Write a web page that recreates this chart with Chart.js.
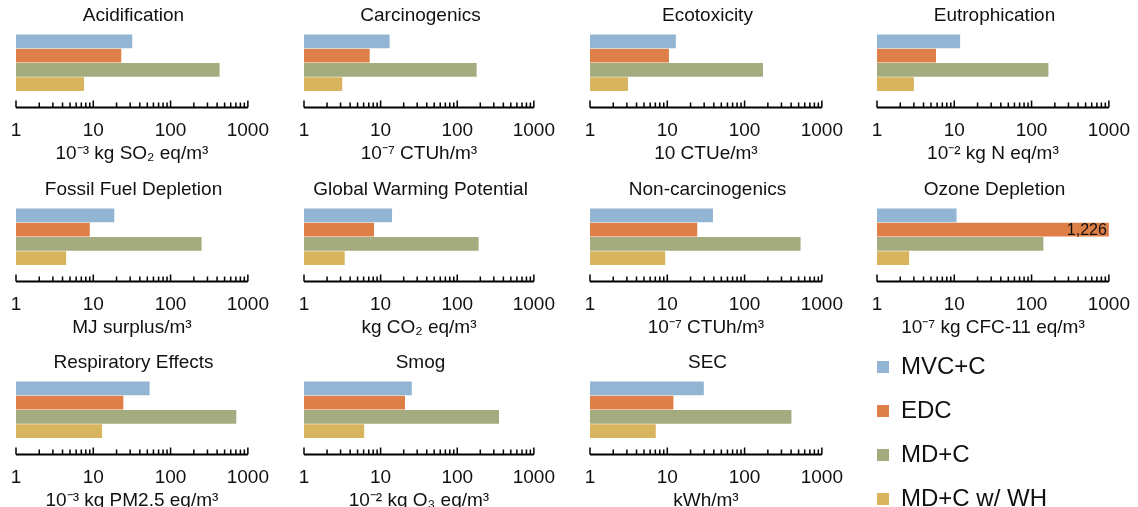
<!DOCTYPE html>
<html>
<head>
<meta charset="utf-8">
<script src="https://cdn.jsdelivr.net/npm/chart.js@4.4.0/dist/chart.umd.min.js"></script>
<style>
  html, body { margin: 0; padding: 0; background: #fff; overflow: hidden; }
  #wrap { position: relative; width: 1138px; height: 507px; overflow: hidden; }
  #wrap canvas { position: absolute; }
</style>
</head>
<body>
<div id="wrap"></div>
<script>
// impact categories, one small chart each
var panelTitles = ['Acidification', 'Carcinogenics', 'Ecotoxicity', 'Eutrophication',
  'Fossil Fuel Depletion', 'Global Warming Potential', 'Non-carcinogenics', 'Ozone Depletion',
  'Respiratory Effects', 'Smog', 'SEC'];
var unitLabels = ['10⁻³ kg SO₂ eq/m³', '10⁻⁷ CTUh/m³', '10 CTUe/m³', '10⁻² kg N eq/m³',
  'MJ surplus/m³', 'kg CO₂ eq/m³', '10⁻⁷ CTUh/m³', '10⁻⁷ kg CFC-11 eq/m³',
  '10⁻³ kg PM2.5 eq/m³', '10⁻² kg O₃ eq/m³', 'kWh/m³'];
var seriesNames = ['MVC+C', 'EDC', 'MD+C', 'MD+C w/ WH'];

var mvcValues  = [31.9, 13.1, 12.9, 11.9, 18.7, 14.1, 39, 10.7, 53.5, 25.5, 29.7];
var edcValues  = [23, 7.2, 10.5, 5.8, 9.0, 8.2, 24.4, 1226, 24.5, 20.8, 12];
var mdValues   = [431, 179, 173, 165, 252, 190, 530, 142, 708, 351, 404];
var mdwhValues = [7.6, 3.15, 3.1, 3.0, 4.45, 3.4, 9.4, 2.6, 13, 6.1, 7.1];

var tickValues = [1, 10, 100, 1000];

var seriesValues = [mvcValues, edcValues, mdValues, mdwhValues];
var colors = ['#93b5d4', '#df7f48', '#a4ab7f', '#d9b45f'];
var textColor = '#111';
var fontFamily = '"Liberation Sans", Arial, Helvetica, sans-serif';

// where each panel's axis sits on the page
var colAxis = [[15.5, 250.5], [304, 537], [590, 825], [877, 1112]];
var rowTop = [0, 174, 347];

Chart.defaults.font.family = fontFamily;

// bottom axis line with inward log ticks
var logAxis = {
  id: 'logAxis',
  afterDatasetsDraw: function (chart) {
    var ctx = chart.ctx;
    var area = chart.chartArea;
    var sx = chart.scales.x;
    var y = Math.round(area.bottom) + 0.5;
    ctx.save();
    ctx.strokeStyle = '#000';
    ctx.lineWidth = 1.5;
    ctx.beginPath();
    for (var d = 1; d < 1000; d *= 10) {
      for (var m = 1; m < 10; m++) {
        var x = sx.getPixelForValue(d * m);
        var len = m === 1 ? 7 : 5;
        ctx.moveTo(x, y);
        ctx.lineTo(x, y - len);
      }
    }
    var xe = sx.getPixelForValue(1000);
    ctx.moveTo(xe, y);
    ctx.lineTo(xe, y - 7);
    ctx.stroke();
    ctx.lineWidth = 2;
    ctx.beginPath();
    ctx.moveTo(area.left, y);
    ctx.lineTo(area.right, y);
    ctx.stroke();
    ctx.restore();
  }
};

// value label for bars running past the axis maximum
var overLabel = {
  id: 'overLabel',
  afterDatasetsDraw: function (chart) {
    var ctx = chart.ctx;
    var max = chart.scales.x.max;
    chart.data.datasets.forEach(function (ds, i) {
      var v = ds.data[0];
      if (v > max) {
        var bar = chart.getDatasetMeta(i).data[0];
        ctx.save();
        ctx.fillStyle = textColor;
        ctx.font = '16px ' + fontFamily;
        ctx.textAlign = 'right';
        ctx.textBaseline = 'middle';
        ctx.fillText(v.toLocaleString('en-US'), chart.chartArea.right - 2, bar.y + 1);
        ctx.restore();
      }
    });
  }
};

var wrap = document.getElementById('wrap');

function addCanvas(left, top, w, h) {
  var c = document.createElement('canvas');
  c.width = w;
  c.height = h;
  c.style.left = left + 'px';
  c.style.top = top + 'px';
  c.style.width = w + 'px';
  c.style.height = h + 'px';
  wrap.appendChild(c);
  return c;
}

panelTitles.forEach(function (title, p) {
  var col = p % 4;
  var row = Math.floor(p / 4);
  var ax = colAxis[col];
  var pad = 30;
  var canvas = addCanvas(ax[0] - pad, rowTop[row], ax[1] - ax[0] + 2 * pad, 170);

  new Chart(canvas, {
    type: 'bar',
    data: {
      labels: [title],
      datasets: seriesNames.map(function (name, s) {
        return {
          label: name,
          data: [seriesValues[s][p]],
          backgroundColor: colors[s],
          borderWidth: 0,
          categoryPercentage: 0.636,
          barPercentage: 0.97
        };
      })
    },
    options: {
      indexAxis: 'y',
      responsive: false,
      animation: false,
      layout: { padding: { left: pad, right: pad, top: 0, bottom: 5 } },
      plugins: {
        legend: { display: false },
        tooltip: { enabled: false },
        title: {
          display: true,
          text: title,
          color: textColor,
          font: { size: 19, weight: 'normal', lineHeight: 1 },
          padding: { top: 6, bottom: -7 }
        }
      },
      scales: {
        x: {
          type: 'logarithmic',
          min: 1,
          max: 1000,
          afterBuildTicks: function (scale) {
            scale.ticks = tickValues.map(function (v) { return { value: v }; });
          },
          ticks: {
            autoSkip: false,
            maxRotation: 0,
            padding: 12,
            color: textColor,
            font: { size: 19 },
            callback: function (v) { return String(v); }
          },
          grid: { display: false, drawTicks: false },
          border: { display: false },
          title: {
            display: true,
            text: unitLabels[p],
            color: textColor,
            font: { size: 19 },
            padding: { top: -12, bottom: 0 }
          }
        },
        y: { display: false }
      }
    },
    plugins: [logAxis, overLabel]
  });
});

// legend in the empty last cell
var legendCanvas = addCanvas(857, 335, 500, 260);
new Chart(legendCanvas, {
  type: 'bar',
  data: {
    labels: [],
    datasets: seriesNames.map(function (name, s) {
      return { label: name, data: [], backgroundColor: colors[s] };
    })
  },
  options: {
    responsive: false,
    animation: false,
    scales: { x: { display: false }, y: { display: false } },
    plugins: {
      tooltip: { enabled: false },
      legend: {
        position: 'left',
        align: 'start',
        labels: {
          boxWidth: 12,
          boxHeight: 12,
          color: textColor,
          font: { size: 24 },
          padding: 20
        }
      }
    }
  }
});
</script>
</body>
</html>
